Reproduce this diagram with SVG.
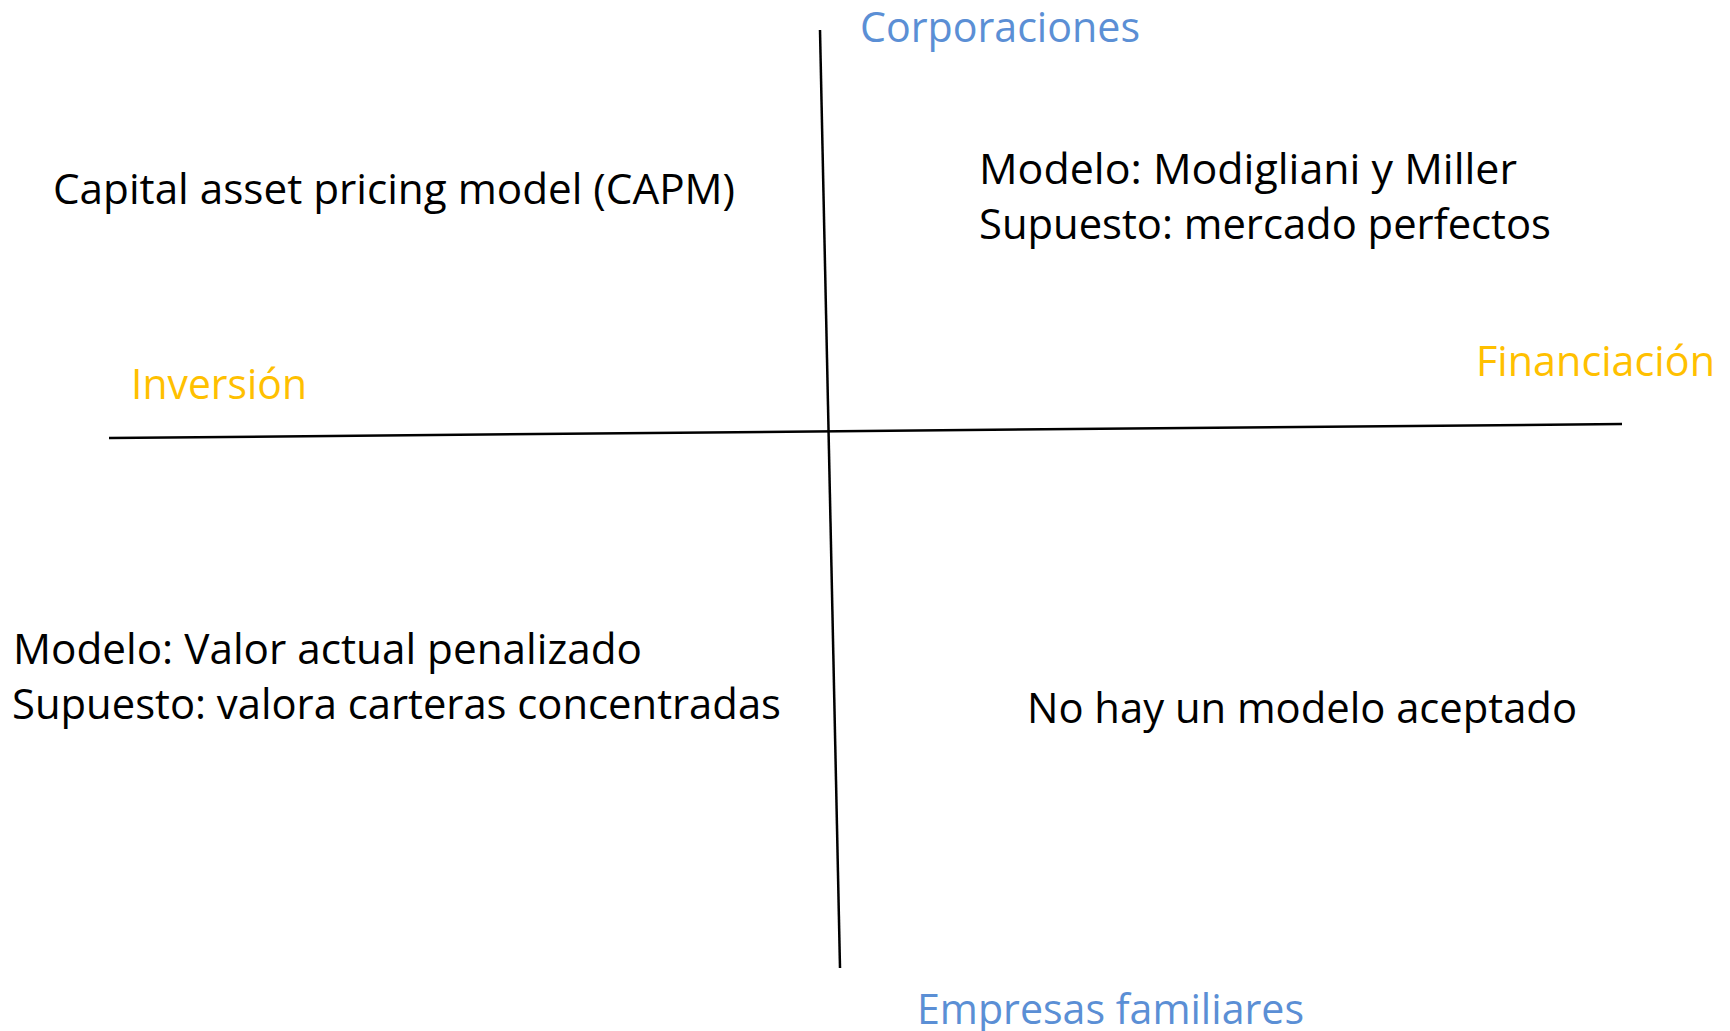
<svg xmlns="http://www.w3.org/2000/svg" width="1730" height="1031" viewBox="0 0 1730 1031">
<style>
  text { font-family: "Open Sans", "Noto Sans", "Liberation Sans", sans-serif; font-size: 42px; }
  .body { fill: #000000; }
  .blue { fill: #5B8FD5; }
  .gold { fill: #FFC000; }
  .axis { stroke: #000000; stroke-width: 2.5; fill: none; }
</style>
<rect width="1730" height="1031" fill="#ffffff"/>
<g id="connectors">
  <line class="axis" x1="820" y1="30" x2="840" y2="968"/>
  <line class="axis" x1="109" y1="438" x2="1622" y2="424"/>
</g>
<g id="corporaciones"><text class="blue" x="860" y="42" textLength="280" lengthAdjust="spacingAndGlyphs">Corporaciones</text></g>
<g id="empresas-familiares"><text class="blue" x="917" y="1024" textLength="387" lengthAdjust="spacingAndGlyphs">Empresas familiares</text></g>
<g id="inversion"><text class="gold" x="131" y="399" textLength="176" lengthAdjust="spacingAndGlyphs">Inversión</text></g>
<g id="financiacion"><text class="gold" x="1476" y="376" textLength="239" lengthAdjust="spacingAndGlyphs">Financiación</text></g>
<g id="capm"><text class="body" x="53" y="204" textLength="682" lengthAdjust="spacingAndGlyphs">Capital asset pricing model (CAPM)</text></g>
<g id="modigliani-miller">
  <text class="body" x="979" y="184" textLength="538" lengthAdjust="spacingAndGlyphs">Modelo: Modigliani y Miller</text>
  <text class="body" x="979" y="239" textLength="572" lengthAdjust="spacingAndGlyphs">Supuesto: mercado perfectos</text>
</g>
<g id="valor-actual-penalizado">
  <text class="body" x="13" y="664" textLength="629" lengthAdjust="spacingAndGlyphs">Modelo: Valor actual penalizado</text>
  <text class="body" x="12" y="719" textLength="769" lengthAdjust="spacingAndGlyphs">Supuesto: valora carteras concentradas</text>
</g>
<g id="no-modelo"><text class="body" x="1027" y="723" textLength="550" lengthAdjust="spacingAndGlyphs">No hay un modelo aceptado</text></g>
</svg>
